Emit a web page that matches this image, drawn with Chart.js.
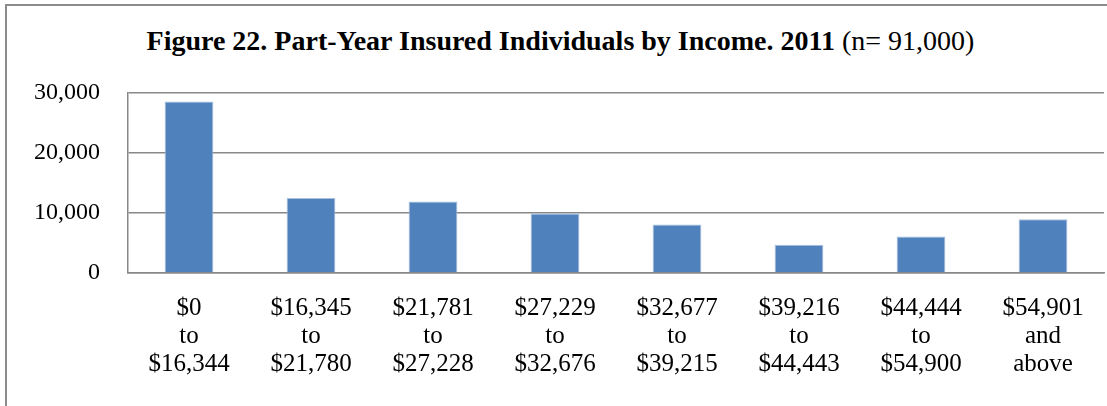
<!DOCTYPE html>
<html>
<head>
<meta charset="utf-8">
<script src="https://cdn.jsdelivr.net/npm/chart.js@4"></script>
<style>
  body { margin: 0; background: #fff; }
  #wrap { position: relative; width: 1107px; height: 406px; overflow: hidden; }
  #frame {
    position: absolute; left: 5px; top: 4px; right: -10px; bottom: -10px;
    border-left: 2px solid #8c8c8c; border-top: 2px solid #8c8c8c;
  }
  #title {
    position: absolute; left: 0; top: 27px; width: 1121px; text-align: center;
    font-family: "Liberation Serif", serif; font-size: 28px; line-height: 28px; color: #000;
    white-space: nowrap;
  }
  #chart { position: absolute; left: 0; top: 0; }
</style>
</head>
<body>
<div id="wrap">
  <div id="frame"></div>
  <div id="title"><b>Figure 22. Part-Year Insured Individuals by Income. 2011</b> (n= 91,000)</div>
  <canvas id="chart" width="1107" height="406"></canvas>
</div>
<script>
const incomeGroups = [
  ["$0", "to", "$16,344"],
  ["$16,345", "to", "$21,780"],
  ["$21,781", "to", "$27,228"],
  ["$27,229", "to", "$32,676"],
  ["$32,677", "to", "$39,215"],
  ["$39,216", "to", "$44,443"],
  ["$44,444", "to", "$54,900"],
  ["$54,901", "and", "above"],
];
const individuals = [28600, 12500, 11900, 9900, 8100, 4700, 6100, 8950];
const yTicks = [0, 10000, 20000, 30000];

const serif = "'Liberation Serif', serif";

const config = {
  type: "bar",
  data: {
    labels: incomeGroups,
    datasets: [
      {
        label: "Part-Year Insured Individuals",
        data: individuals,
        backgroundColor: "#4f81bd",
        borderColor: "#a9c0de",
        borderWidth: 1,
        categoryPercentage: 1,
        barPercentage: 0.4,
      },
    ],
  },
  options: {
    responsive: false,
    animation: false,
    layout: {
      padding: { top: 93, right: 3, bottom: 0, left: 0 },
    },
    plugins: {
      legend: { display: false },
      title: { display: false },
      tooltip: { enabled: false },
    },
    scales: {
      x: {
        grid: { display: false, drawTicks: false },
        border: { color: "#888", width: 1.5 },
        ticks: {
          color: "#000",
          font: { family: serif, size: 25, lineHeight: "28px" },
          padding: 21,
          maxRotation: 0,
          autoSkip: false,
        },
        afterFit: function (scale) {
          scale.height = 133;
        },
      },
      y: {
        min: 0,
        max: 30000,
        afterBuildTicks: function (scale) {
          scale.ticks = yTicks.map((v) => ({ value: v }));
        },
        grid: { color: "#888", lineWidth: 1.5, drawTicks: false },
        border: { color: "#888", width: 1.5 },
        ticks: {
          color: "#000",
          font: { family: serif, size: 24 },
          padding: 28,
          callback: function (value) {
            return value.toLocaleString("en-US");
          },
        },
        afterFit: function (scale) {
          scale.width = 128;
        },
      },
    },
  },
};

new Chart(document.getElementById("chart"), config);
</script>
</body>
</html>
